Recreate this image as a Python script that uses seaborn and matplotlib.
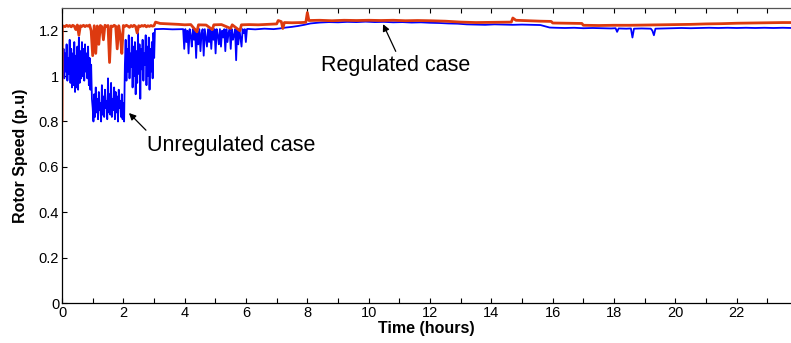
import numpy as np
import pandas as pd
import matplotlib
matplotlib.use("Agg")
import matplotlib.pyplot as plt
import seaborn as sns

# ---------------- data ----------------
# Unregulated case (blue), 0 - 1 h
blue_a = [1.15, 1.00, 1.12, 0.99, 1.10, 1.02, 1.14, 0.98, 1.08, 1.01, 1.16, 0.97, 1.12, 0.95,
          1.10, 0.96, 1.15, 0.93, 1.09, 0.95, 1.13, 0.94, 1.17, 0.97, 1.11, 0.99, 1.15, 1.00,
          1.12, 0.98, 1.14, 1.02, 1.10, 0.99, 1.13, 0.96, 1.08, 0.94, 1.05, 0.90]
# 1 - 2.05 h
blue_b = [0.86, 0.80, 0.92, 0.82, 0.95, 0.84, 0.90, 0.81, 0.93, 0.85, 0.88, 0.80, 0.96, 0.83,
          0.91, 0.82, 0.94, 0.86, 0.89, 0.81, 0.99, 0.84, 0.92, 0.83, 0.97, 0.82, 0.90, 0.85,
          0.95, 0.81, 0.93, 0.84, 0.91, 0.80, 0.94, 0.86, 0.89, 0.82, 0.92, 0.81, 0.88, 0.80]
# 2.05 - 3.03 h
blue_c = [1.05, 1.16, 0.98, 1.12, 1.02, 1.18, 0.99, 1.10, 1.04, 1.17, 0.95, 1.13, 1.00, 1.15,
          0.92, 1.11, 0.97, 1.19, 1.01, 1.14, 0.90, 1.12, 1.03, 1.16, 0.98, 1.10, 1.05, 1.18,
          0.96, 1.13, 1.00, 1.17, 0.94, 1.12, 1.02, 1.15, 0.99, 1.19, 1.08, 1.207]
# 3.05 - 3.9 h (flat)
blue_d_t = [3.05, 3.3, 3.6, 3.9]
blue_d = [1.207, 1.208, 1.206, 1.207]
# 3.95 - 6.03 h (spiky)
blue_e = [1.207, 1.12, 1.207, 1.15, 1.20, 1.10, 1.207, 1.18, 1.13, 1.207, 1.16, 1.207, 1.08,
          1.20, 1.14, 1.207, 1.11, 1.19, 1.207, 1.09, 1.207, 1.17, 1.13, 1.207, 1.15, 1.207,
          1.12, 1.20, 1.16, 1.207, 1.10, 1.207, 1.18, 1.14, 1.207, 1.13, 1.20, 1.17, 1.207,
          1.11, 1.207, 1.15, 1.19, 1.207, 1.12, 1.207, 1.16, 1.18, 1.207, 1.07, 1.207, 1.14,
          1.207, 1.17, 1.13, 1.207, 1.19, 1.207, 1.15, 1.207]
# 6.05 - 24 h
blue_f_t = [6.05, 6.3, 6.6, 6.9, 7.1, 7.3, 7.5, 7.7, 7.9, 8.1, 8.4, 8.7, 9.0, 9.3, 9.6, 9.9,
            10.2, 10.5, 10.8, 11.1, 11.4, 11.7, 12.0, 12.3, 12.6, 12.9, 13.2, 13.5, 13.8,
            14.1, 14.4, 14.7, 15.0, 15.3, 15.6, 15.9, 16.1, 16.4, 16.7, 17.0, 17.3, 17.6,
            17.9, 18.05, 18.1, 18.15, 18.4, 18.55, 18.6, 18.65, 18.9, 19.2, 19.25, 19.3,
            19.35, 19.6, 19.9, 20.2, 20.5, 20.8, 21.1, 21.4, 21.7, 22.0, 22.3, 22.6, 22.9,
            23.2, 23.5, 23.8, 24.0]
blue_f = [1.208, 1.206, 1.209, 1.207, 1.210, 1.214, 1.217, 1.221, 1.226, 1.232, 1.236, 1.238,
          1.237, 1.239, 1.238, 1.240, 1.238, 1.239, 1.237, 1.238, 1.236, 1.237, 1.235, 1.234,
          1.232, 1.231, 1.228, 1.227, 1.226, 1.228, 1.227, 1.226, 1.227, 1.226, 1.225, 1.214,
          1.213, 1.212, 1.213, 1.211, 1.212, 1.211, 1.210, 1.211, 1.195, 1.210, 1.209, 1.210,
          1.170, 1.209, 1.210, 1.209, 1.200, 1.180, 1.209, 1.210, 1.211, 1.212, 1.211, 1.212,
          1.213, 1.212, 1.213, 1.212, 1.213, 1.212, 1.213, 1.212, 1.213, 1.212, 1.213]

# Regulated case (red), 0 - 3 h at 0.05 h
red_a = [0.80, 1.222, 1.218, 1.224, 1.219, 1.223, 1.217, 1.224, 1.220, 1.205, 1.225, 1.18,
         1.222, 1.219, 1.224, 1.218, 1.223, 1.220, 1.225, 1.20, 1.09, 1.222, 1.10, 1.221,
         1.14, 1.223, 1.218, 1.16, 1.224, 1.219, 1.223, 1.06, 1.221, 1.218, 1.224, 1.220,
         1.12, 1.222, 1.18, 1.10, 1.223, 1.219, 1.224, 1.220, 1.215, 1.223, 1.218, 1.224,
         1.219, 1.19, 1.222, 1.218, 1.223, 1.220, 1.224, 1.217, 1.222, 1.219, 1.223, 1.220,
         1.222]
# 3.05 - 24 h
red_b_t = [3.05, 3.2, 3.5, 3.8, 4.0, 4.2, 4.4, 4.45, 4.7, 4.9, 4.95, 5.2, 5.5, 5.55, 5.8,
           5.85, 6.1, 6.4, 6.7, 7.0, 7.05, 7.15, 7.2, 7.25, 7.5, 7.8, 7.95, 8.0, 8.05, 8.4,
           8.8, 9.2, 9.6, 10.0, 10.4, 10.8, 11.2, 11.6, 12.0, 12.5, 13.0, 13.5, 14.0, 14.5,
           14.65, 14.7, 14.8, 15.2, 15.6, 15.95, 16.0, 16.5, 16.95, 17.0, 17.5, 18.0, 18.5,
           19.0, 19.5, 20.0, 20.5, 21.0, 21.5, 22.0, 22.5, 23.0, 23.5, 24.0]
red_b = [1.238, 1.232, 1.230, 1.228, 1.226, 1.227, 1.195, 1.226, 1.225, 1.205, 1.226, 1.227,
         1.210, 1.226, 1.200, 1.226, 1.227, 1.226, 1.228, 1.230, 1.245, 1.240, 1.210, 1.236,
         1.235, 1.236, 1.237, 1.280, 1.245, 1.246, 1.244, 1.246, 1.245, 1.246, 1.245, 1.246,
         1.244, 1.245, 1.244, 1.242, 1.238, 1.236, 1.237, 1.238, 1.238, 1.256, 1.246, 1.244,
         1.242, 1.241, 1.234, 1.233, 1.232, 1.224, 1.223, 1.224, 1.224, 1.225, 1.226, 1.227,
         1.228, 1.230, 1.231, 1.233, 1.234, 1.235, 1.236, 1.236]

x_ticks = list(range(0, 24))
x_labels = [str(h) if h % 2 == 0 else "" for h in x_ticks]
y_ticks = [0, 0.2, 0.4, 0.6, 0.8, 1.0, 1.2]
y_labels = ["0", "0.2", "0.4", "0.6", "0.8", "1", "1.2"]

# ---------------- build series ----------------
blue_t = np.concatenate([np.linspace(0.0, 1.0, len(blue_a), endpoint=False),
                         np.linspace(1.0, 2.05, len(blue_b), endpoint=False),
                         np.linspace(2.05, 3.03, len(blue_c)),
                         blue_d_t,
                         np.linspace(3.95, 6.03, len(blue_e)),
                         blue_f_t])
blue_v = np.concatenate([blue_a, blue_b, blue_c, blue_d, blue_e, blue_f])
red_t = np.concatenate([np.linspace(0.0, 3.0, len(red_a)), red_b_t])
red_t[1] = 0.01
red_v = np.concatenate([red_a, red_b])

df_blue = pd.DataFrame({"t": blue_t, "v": blue_v})
df_red = pd.DataFrame({"t": red_t, "v": red_v})

# ---------------- plot ----------------
sns.set_style("ticks")
plt.rcParams["font.family"] = ["Liberation Sans", "DejaVu Sans"]
for k in ["text.color", "axes.labelcolor", "xtick.color", "ytick.color"]:
    plt.rcParams[k] = "black"

fig = plt.figure(figsize=(7.91, 3.43), dpi=100)
ax = fig.add_axes([0.0784, 0.1166, 0.9216, 0.86])

sns.lineplot(data=df_blue, x="t", y="v", color="#0000FF", lw=1.3,
             estimator=None, sort=False, ax=ax)
sns.lineplot(data=df_red, x="t", y="v", color="#DD3A10", lw=2.0,
             estimator=None, sort=False, ax=ax)

ax.set_xlim(0, 23.77)
ax.set_ylim(0, 1.3)
ax.set_xticks(x_ticks)
ax.set_xticklabels(x_labels, fontsize=10.5)
ax.set_yticks(y_ticks)
ax.set_yticklabels(y_labels, fontsize=10.5)
ax.tick_params(axis="x", direction="in", top=True, length=3.5, width=0.8, pad=2)
ax.tick_params(axis="y", direction="in", right=False, length=3.5, width=0.8, pad=2)
for s in ["left", "bottom", "top"]:
    ax.spines[s].set_visible(True)
    ax.spines[s].set_color("black")
    ax.spines[s].set_linewidth(0.9)
ax.spines["top"].set_color("#555555")
ax.spines["right"].set_visible(False)

ax.set_xlabel("Time (hours)", fontsize=11.5, fontweight="bold", labelpad=1)
ax.set_ylabel("Rotor Speed (p.u)", fontsize=11.5, fontweight="bold", labelpad=8)

ax.annotate("", xy=(10.43, 1.240), xytext=(10.92, 1.098),
            arrowprops=dict(arrowstyle="-|>", color="black", lw=0.9, mutation_scale=10))
ax.text(10.89, 1.023, "Regulated case", fontsize=15.5, ha="center", va="baseline")
ax.annotate("", xy=(2.12, 0.846), xytext=(2.80, 0.753),
            arrowprops=dict(arrowstyle="-|>", color="black", lw=0.9, mutation_scale=10))
ax.text(2.77, 0.669, "Unregulated case", fontsize=15.5, ha="left", va="baseline")

fig.savefig("out.png", dpi=100)
